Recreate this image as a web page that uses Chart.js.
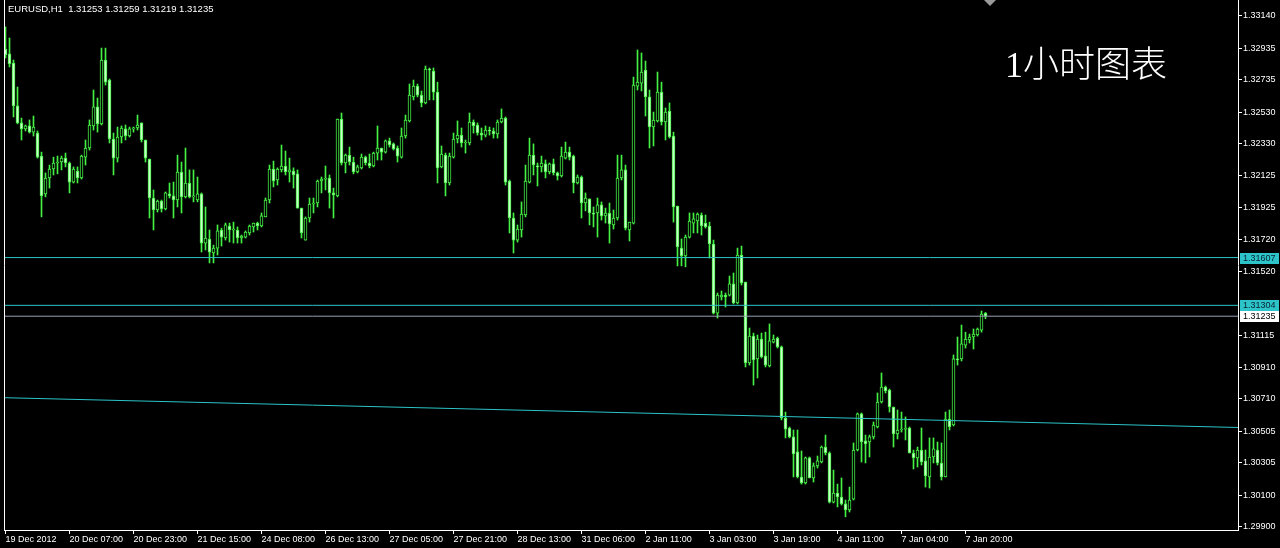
<!DOCTYPE html>
<html>
<head>
<meta charset="utf-8">
<script src="https://cdn.jsdelivr.net/npm/chart.js@4.4.1/dist/chart.umd.min.js"></script>
<style>
  html, body { margin: 0; padding: 0; background: #000; }
  #wrap { position: relative; width: 1280px; height: 548px; overflow: hidden; background: #000; }
  #c { position: absolute; left: 0; top: 0; }
  #hdr { position: absolute; left: 8px; top: 3px; color: #fff; font: 9.5px "Liberation Sans", Arial, sans-serif; line-height: 11px; white-space: pre; }
  #tag { position: absolute; left: 1005px; top: 47px; color: #fff; font: 300 36px "Liberation Serif", "Noto Sans CJK SC", serif; line-height: 36px; white-space: pre; }
</style>
</head>
<body>
<div id="wrap">
  <canvas id="c" width="1280" height="548"></canvas>
  <div id="hdr"></div>
  <div id="tag">1小时图表</div>
</div>
<script>
// ---------------- data ----------------
const symbol = 'EURUSD,H1';
const timeLabels = ['19 Dec 2012','20 Dec 07:00','20 Dec 23:00','21 Dec 15:00','24 Dec 08:00','26 Dec 13:00',
  '27 Dec 05:00','27 Dec 21:00','28 Dec 13:00','31 Dec 06:00','2 Jan 11:00','3 Jan 03:00','3 Jan 19:00',
  '4 Jan 11:00','7 Jan 04:00','7 Jan 20:00'];
const barsPerLabel = 16;
const priceTicks = [1.33140,1.32935,1.32735,1.32530,1.32330,1.32125,1.31925,1.31720,1.31520,
  1.31115,1.30910,1.30710,1.30505,1.30305,1.30100,1.29900];

const opens = [1.32930,1.32899,1.32841,1.32569,1.32461,1.32423,1.32442,1.32403,1.32397,1.32251,
1.32011,1.32112,1.32169,1.32207,1.32213,1.32238,1.32207,1.32086,1.32156,1.32112,
1.32244,1.32302,1.32442,1.32563,1.32455,1.32860,1.32733,1.32359,1.32238,1.32372,
1.32423,1.32378,1.32423,1.32429,1.32461,1.32353,1.32232,1.31985,1.31909,1.31966,
1.31915,1.32011,1.31998,1.31972,1.32150,1.31992,1.32080,1.31992,1.31972,1.32011,
1.31699,1.31725,1.31636,1.31667,1.31782,1.31731,1.31807,1.31782,1.31782,1.31731,
1.31737,1.31763,1.31801,1.31826,1.31807,1.31865,1.31972,1.32169,1.32099,1.32163,
1.32188,1.32150,1.32156,1.32138,1.31921,1.31718,1.31858,1.31947,1.31953,1.32093,
1.32105,1.32112,1.32017,1.31998,1.32486,1.32207,1.32257,1.32213,1.32150,1.32176,
1.32244,1.32207,1.32188,1.32270,1.32302,1.32276,1.32347,1.32328,1.32302,1.32244,
1.32378,1.32474,1.32626,1.32695,1.32638,1.32588,1.32803,1.32790,1.32657,1.32182,
1.32257,1.32080,1.32244,1.32359,1.32384,1.32334,1.32334,1.32467,1.32448,1.32397,
1.32384,1.32416,1.32410,1.32391,1.32467,1.32492,1.32093,1.31858,1.31718,1.31782,
1.31877,1.32086,1.32257,1.32188,1.32182,1.32201,1.32150,1.32201,1.32144,1.32125,
1.32238,1.32276,1.32251,1.32080,1.32118,1.31953,1.31979,1.31890,1.31890,1.31941,
1.31871,1.31890,1.31814,1.31858,1.32112,1.32163,1.31782,1.31826,1.32695,1.32714,
1.32797,1.32626,1.32436,1.32474,1.32657,1.32467,1.32537,1.32378,1.31934,1.31667,
1.31617,1.31737,1.31826,1.31839,1.31877,1.31826,1.31807,1.31693,1.31255,1.31357,
1.31369,1.31369,1.31440,1.31319,1.31623,1.31452,1.30938,1.31109,1.30964,1.31090,
1.30983,1.30919,1.31071,1.31097,1.31040,1.30589,1.30526,1.30469,1.30374,1.30215,
1.30177,1.30336,1.30209,1.30285,1.30310,1.30405,1.30367,1.30056,1.30113,1.30088,
1.30044,1.30006,1.30075,1.30386,1.30615,1.30444,1.30437,1.30469,1.30532,1.30691,
1.30786,1.30767,1.30659,1.30488,1.30513,1.30519,1.30526,1.30367,1.30336,1.30386,
1.30317,1.30215,1.30342,1.30386,1.30304,1.30215,1.30583,1.30545,1.30964,1.30964,
1.31052,1.31084,1.31103,1.31116,1.31147,1.31253];

const highs = [1.33070,1.33000,1.32860,1.32689,1.32492,1.32448,1.32480,1.32505,1.32410,1.32276,
1.32144,1.32194,1.32244,1.32251,1.32251,1.32270,1.32213,1.32182,1.32182,1.32257,
1.32353,1.32480,1.32670,1.32619,1.32936,1.32936,1.32740,1.32397,1.32435,1.32442,
1.32448,1.32435,1.32435,1.32511,1.32461,1.32353,1.32232,1.32036,1.31972,1.31972,
1.32023,1.32080,1.32086,1.32257,1.32213,1.32302,1.32163,1.32163,1.32118,1.32017,
1.31928,1.31782,1.31686,1.31814,1.31794,1.31826,1.31826,1.31832,1.31801,1.31750,
1.31776,1.31814,1.31826,1.31832,1.31890,1.31985,1.32194,1.32219,1.32176,1.32321,
1.32283,1.32238,1.32176,1.32163,1.31921,1.31865,1.31985,1.31985,1.32099,1.32118,
1.32188,1.32131,1.32048,1.32486,1.32524,1.32264,1.32308,1.32244,1.32194,1.32264,
1.32251,1.32264,1.32276,1.32442,1.32302,1.32353,1.32365,1.32334,1.32315,1.32429,
1.32511,1.32708,1.32733,1.32708,1.32664,1.32822,1.32810,1.32810,1.32720,1.32315,
1.32270,1.32270,1.32397,1.32474,1.32429,1.32353,1.32524,1.32480,1.32461,1.32429,
1.32442,1.32435,1.32429,1.32480,1.32550,1.32499,1.32099,1.31890,1.31814,1.31960,
1.32194,1.32365,1.32328,1.32207,1.32251,1.32226,1.32207,1.32232,1.32150,1.32308,
1.32340,1.32308,1.32257,1.32131,1.32125,1.32017,1.31979,1.31928,1.31985,1.31960,
1.31921,1.31953,1.31909,1.32257,1.32257,1.32194,1.31832,1.32752,1.32924,1.32905,
1.32854,1.32670,1.32530,1.32784,1.32720,1.32556,1.32588,1.32403,1.31934,1.31725,
1.31750,1.31890,1.31890,1.31890,1.31890,1.31877,1.31832,1.31718,1.31382,1.31395,
1.31382,1.31490,1.31509,1.31667,1.31680,1.31452,1.31160,1.31128,1.31116,1.31128,
1.31134,1.31186,1.31116,1.31103,1.31046,1.30627,1.30532,1.30513,1.30513,1.30380,
1.30342,1.30342,1.30304,1.30348,1.30412,1.30481,1.30374,1.30259,1.30170,1.30209,
1.30069,1.30151,1.30431,1.30621,1.30621,1.30481,1.30481,1.30564,1.30748,1.30875,
1.30792,1.30773,1.30659,1.30640,1.30627,1.30596,1.30532,1.30386,1.30405,1.30526,
1.30386,1.30463,1.30463,1.30437,1.30431,1.30627,1.30640,1.30989,1.31103,1.31179,
1.31134,1.31122,1.31154,1.31160,1.31268,1.31259];

const lows = [1.32873,1.32816,1.32499,1.32455,1.32353,1.32410,1.32397,1.32378,1.32238,1.31865,
1.31992,1.32048,1.32131,1.32138,1.32163,1.32182,1.32017,1.32080,1.32080,1.32105,
1.32194,1.32289,1.32416,1.32403,1.32448,1.32701,1.32334,1.32131,1.32213,1.32334,
1.32353,1.32372,1.32403,1.32416,1.32340,1.32213,1.31858,1.31782,1.31896,1.31896,
1.31909,1.31985,1.31858,1.31928,1.31890,1.31985,1.31985,1.31960,1.31960,1.31642,
1.31655,1.31573,1.31573,1.31623,1.31680,1.31718,1.31705,1.31699,1.31699,1.31699,
1.31731,1.31750,1.31769,1.31782,1.31801,1.31865,1.31953,1.32055,1.32067,1.32150,
1.32131,1.32086,1.32048,1.31921,1.31731,1.31718,1.31832,1.31890,1.31928,1.32017,
1.32036,1.31921,1.31858,1.31992,1.32194,1.32144,1.32194,1.32138,1.32144,1.32169,
1.32194,1.32176,1.32182,1.32226,1.32226,1.32270,1.32308,1.32289,1.32213,1.32238,
1.32365,1.32467,1.32607,1.32626,1.32563,1.32582,1.32607,1.32607,1.32080,1.32176,
1.31998,1.32067,1.32238,1.32334,1.32308,1.32270,1.32321,1.32397,1.32384,1.32353,
1.32372,1.32384,1.32365,1.32365,1.32461,1.32067,1.31763,1.31636,1.31705,1.31737,
1.31865,1.32080,1.32131,1.32061,1.32150,1.32112,1.32138,1.32131,1.32099,1.32118,
1.32232,1.32226,1.32017,1.32074,1.31858,1.31903,1.31814,1.31801,1.31737,1.31845,
1.31826,1.31699,1.31788,1.31845,1.32099,1.31782,1.31712,1.31820,1.32670,1.32664,
1.32505,1.32302,1.32315,1.32467,1.32448,1.32353,1.32365,1.31832,1.31554,1.31554,
1.31548,1.31731,1.31763,1.31763,1.31750,1.31794,1.31604,1.31249,1.31223,1.31338,
1.31293,1.31363,1.31313,1.31313,1.31433,1.30913,1.30925,1.30798,1.30843,1.30970,
1.30913,1.30913,1.31065,1.31033,1.30577,1.30463,1.30463,1.30215,1.30209,1.30170,
1.30170,1.30209,1.30183,1.30272,1.30304,1.30355,1.30050,1.30050,1.30025,1.30037,
1.29962,1.29993,1.30069,1.30380,1.30310,1.30304,1.30342,1.30456,1.30526,1.30684,
1.30748,1.30627,1.30405,1.30456,1.30500,1.30450,1.30367,1.30266,1.30278,1.30291,
1.30151,1.30145,1.30304,1.30291,1.30196,1.30215,1.30513,1.30539,1.30925,1.30951,
1.31033,1.31065,1.31027,1.31109,1.31134,1.31219];

const closes = [1.32892,1.32835,1.32569,1.32461,1.32423,1.32442,1.32403,1.32435,1.32244,1.31998,
1.32112,1.32169,1.32207,1.32213,1.32238,1.32207,1.32086,1.32169,1.32112,1.32251,
1.32302,1.32448,1.32563,1.32455,1.32860,1.32720,1.32359,1.32238,1.32372,1.32429,
1.32378,1.32423,1.32429,1.32448,1.32353,1.32238,1.31985,1.31909,1.31966,1.31915,
1.32017,1.31998,1.31972,1.32150,1.31992,1.32080,1.31992,1.31998,1.32011,1.31699,
1.31731,1.31642,1.31667,1.31776,1.31737,1.31814,1.31782,1.31788,1.31731,1.31744,
1.31769,1.31807,1.31826,1.31807,1.31871,1.31972,1.32169,1.32093,1.32169,1.32188,
1.32150,1.32163,1.32131,1.31921,1.31763,1.31858,1.31947,1.31953,1.32093,1.32105,
1.32112,1.32017,1.32004,1.32486,1.32207,1.32257,1.32213,1.32150,1.32182,1.32244,
1.32207,1.32188,1.32270,1.32302,1.32276,1.32347,1.32321,1.32296,1.32251,1.32378,
1.32480,1.32638,1.32695,1.32638,1.32588,1.32803,1.32797,1.32657,1.32176,1.32264,
1.32080,1.32251,1.32359,1.32384,1.32334,1.32340,1.32467,1.32442,1.32397,1.32384,
1.32416,1.32410,1.32391,1.32467,1.32492,1.32086,1.31858,1.31718,1.31788,1.31883,
1.32093,1.32257,1.32194,1.32182,1.32207,1.32150,1.32201,1.32144,1.32125,1.32251,
1.32276,1.32244,1.32080,1.32118,1.31953,1.31985,1.31890,1.31883,1.31941,1.31871,
1.31890,1.31820,1.31858,1.32112,1.32163,1.31794,1.31832,1.32701,1.32720,1.32784,
1.32626,1.32436,1.32480,1.32657,1.32467,1.32530,1.32372,1.31928,1.31674,1.31617,
1.31737,1.31839,1.31852,1.31883,1.31807,1.31801,1.31693,1.31255,1.31369,1.31369,
1.31357,1.31440,1.31319,1.31623,1.31446,1.30938,1.31109,1.30957,1.31090,1.30976,
1.30925,1.31078,1.31090,1.31040,1.30589,1.30519,1.30469,1.30361,1.30215,1.30177,
1.30336,1.30209,1.30285,1.30317,1.30405,1.30367,1.30056,1.30113,1.30088,1.30044,
1.30006,1.30069,1.30386,1.30615,1.30437,1.30424,1.30469,1.30545,1.30691,1.30786,
1.30761,1.30659,1.30488,1.30513,1.30519,1.30526,1.30367,1.30336,1.30386,1.30310,
1.30221,1.30342,1.30393,1.30304,1.30215,1.30583,1.30532,1.30964,1.30957,1.31059,
1.31090,1.31103,1.31122,1.31154,1.31249,1.31235];

// horizontal price levels and trend line (data space)
const levelPrices = [1.31607, 1.31304];
const trendPrices = [1.30718, 1.30529];

// ---------------- view / style ----------------
const xMin = -0.375, xMax = 308.125;
const yMin = 1.298787, yMax = 1.33241;
const GREEN = '#44f044';
const BEAR_FILL = '#c8ffc8';
const CYAN = '#2cc4c8';
const BID_GREY = '#9aa0b4';
const FONT = { family: '"Liberation Sans", Arial, sans-serif', size: 9 };

const n = closes.length;
const bidPrice = closes[n - 1];
document.getElementById('hdr').textContent =
  symbol + '  ' + [opens[n-1], highs[n-1], lows[n-1], closes[n-1]].map(v => v.toFixed(5)).join(' ');

const wickData = lows.map((l, i) => ({ x: i, y: [l, highs[i]] }));
const bodyData = opens.map((o, i) => ({ x: i, y: [o, closes[i]] }));
const bodyFill = opens.map((o, i) => closes[i] >= o ? '#000000' : BEAR_FILL);

const lineDs = (pts, color) => ({
  type: 'line', data: pts, borderColor: color, borderWidth: 1, pointRadius: 0,
  fill: false, tension: 0, order: 0
});

const overlay = {
  id: 'overlay',
  afterDraw(chart) {
    const { ctx, chartArea: a, scales: { y } } = chart;
    ctx.save();
    ctx.strokeStyle = '#ffffff';
    ctx.lineWidth = 1;
    ctx.beginPath();
    ctx.moveTo(a.left + 0.5, a.top);
    ctx.lineTo(a.left + 0.5, a.bottom + 0.5);
    ctx.stroke();
    // chart-shift marker
    ctx.fillStyle = '#9a9a9a';
    ctx.beginPath();
    ctx.moveTo(984, 0); ctx.lineTo(996, 0); ctx.lineTo(990, 6); ctx.closePath();
    ctx.fill();
    // price tags on the axis
    const tags = levelPrices.map(p => ({ p, bg: CYAN, fg: '#0a2030' }))
      .concat([{ p: bidPrice, bg: '#ffffff', fg: '#000000' }]);
    ctx.font = FONT.size + 'px ' + FONT.family;
    ctx.textBaseline = 'middle';
    ctx.textAlign = 'left';
    tags.forEach(t => {
      const py = Math.round(y.getPixelForValue(t.p));
      ctx.fillStyle = t.bg;
      ctx.fillRect(a.right + 2, py - 5, 39, 11);
      ctx.fillStyle = t.fg;
      ctx.fillText(t.p.toFixed(5), a.right + 5, py + 0.5);
    });
    ctx.restore();
  }
};

new Chart(document.getElementById('c'), {
  type: 'bar',
  data: {
    datasets: [
      lineDs([{ x: xMin, y: levelPrices[0] }, { x: xMax, y: levelPrices[0] }], CYAN),
      lineDs([{ x: xMin, y: levelPrices[1] }, { x: xMax, y: levelPrices[1] }], CYAN),
      lineDs([{ x: xMin, y: bidPrice }, { x: xMax, y: bidPrice }], BID_GREY),
      lineDs([{ x: xMin, y: trendPrices[0] }, { x: xMax, y: trendPrices[1] }], CYAN),
      { type: 'bar', data: bodyData, backgroundColor: bodyFill, borderColor: GREEN, borderWidth: 1,
        borderSkipped: false, barThickness: 3, minBarLength: 1, grouped: false, order: 1 },
      { type: 'bar', data: wickData, backgroundColor: GREEN, borderWidth: 0,
        barThickness: 1, minBarLength: 1, grouped: false, order: 2 }
    ]
  },
  options: {
    responsive: false, animation: false, devicePixelRatio: 1,
    layout: { padding: { left: 4, top: 0, right: 0, bottom: 0 } },
    plugins: { legend: { display: false }, tooltip: { enabled: false }, title: { display: false } },
    scales: {
      x: {
        type: 'linear', min: xMin, max: xMax, offset: false,
        grid: { display: true, drawOnChartArea: false, drawTicks: true, tickLength: 4, color: '#ffffff', offset: false },
        border: { display: true, color: '#ffffff', width: 1 },
        afterBuildTicks: s => { s.ticks = timeLabels.map((_, k) => ({ value: k * barsPerLabel })); },
        afterFit: s => { s.height = 18; s.paddingLeft = 0; s.paddingRight = 0; },
        ticks: { autoSkip: false, maxRotation: 0, minRotation: 0, align: 'start', padding: 0,
          color: '#ffffff', font: FONT, callback: (v, idx) => timeLabels[idx] }
      },
      y: {
        type: 'linear', position: 'right', min: yMin, max: yMax,
        grid: { display: true, drawOnChartArea: false, drawTicks: true, tickLength: 4, color: '#ffffff' },
        border: { display: true, color: '#ffffff', width: 1 },
        afterBuildTicks: s => { s.ticks = priceTicks.map(v => ({ value: v })); },
        afterFit: s => { s.width = 42; s.paddingTop = 0; s.paddingBottom = 0; },
        ticks: { padding: 1, color: '#ffffff', font: FONT, callback: v => v.toFixed(5) }
      }
    }
  },
  plugins: [overlay]
});
</script>
</body>
</html>
